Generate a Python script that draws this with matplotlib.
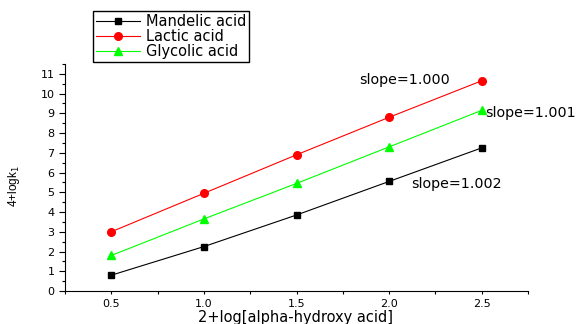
import matplotlib.pyplot as plt
from matplotlib.ticker import MultipleLocator

plt.rcParams['font.family'] = ['DejaVu Sans']

x = [0.5, 1.0, 1.5, 2.0, 2.5]
mandelic = [0.8, 2.25, 3.85, 5.55, 7.25]
lactic = [3.0, 4.95, 6.9, 8.8, 10.65]
glycolic = [1.8, 3.65, 5.45, 7.3, 9.15]

fig = plt.figure(figsize=(5.79, 3.24), dpi=100)
ax = fig.add_axes([65 / 579, 33 / 324, 463 / 579, 227 / 324])

ax.plot(x, mandelic, color="black", marker="s", markersize=5, lw=0.8, label="Mandelic acid")
ax.plot(x, lactic, color="red", marker="o", markersize=5.5, lw=0.8, label="Lactic acid")
ax.plot(x, glycolic, color="#00ff00", marker="^", markersize=6, lw=0.8, label="Glycolic acid")

ax.text(1.84, 10.7, "slope=1.000", fontsize=10.3, ha="left", va="center")
ax.text(2.52, 9.0, "slope=1.001", fontsize=10.3, ha="left", va="center")
ax.text(2.12, 5.4, "slope=1.002", fontsize=10.3, ha="left", va="center")

ax.set_xlim(0.25, 2.75)
ax.set_ylim(0, 11.5)
ax.xaxis.set_major_locator(MultipleLocator(0.5))
ax.xaxis.set_minor_locator(MultipleLocator(0.25))
ax.yaxis.set_major_locator(MultipleLocator(1))
ax.yaxis.set_minor_locator(MultipleLocator(0.5))
ax.xaxis.set_major_formatter(plt.FormatStrFormatter("%.1f"))
ax.tick_params(labelsize=8, direction="out", width=0.8)
ax.tick_params(axis="y", which="major", length=4.5, pad=3)
ax.tick_params(axis="y", which="minor", length=2.2, width=0.8)
ax.tick_params(axis="x", which="major", length=2.5, pad=3)
ax.tick_params(axis="x", which="minor", length=2, width=0.8)

ax.spines["top"].set_visible(False)
ax.spines["right"].set_visible(False)

ax.set_xlabel("2+log[alpha-hydroxy acid]", fontsize=10.5)
ax.set_ylabel("4+logk$_1$", fontsize=8.5, family="Liberation Sans")
ax.xaxis.set_label_coords(0.497, -0.085)
ax.yaxis.set_label_coords(-0.093, 0.46)

fig.legend(loc="upper left", bbox_to_anchor=(93 / 579, 1 - 11 / 324), fontsize=10.5,
           frameon=True, fancybox=False, edgecolor="black", borderpad=0.2,
           labelspacing=0.0, handlelength=3.0, handletextpad=0.4, borderaxespad=0,
           framealpha=1)

fig.savefig("out.png", dpi=100)
